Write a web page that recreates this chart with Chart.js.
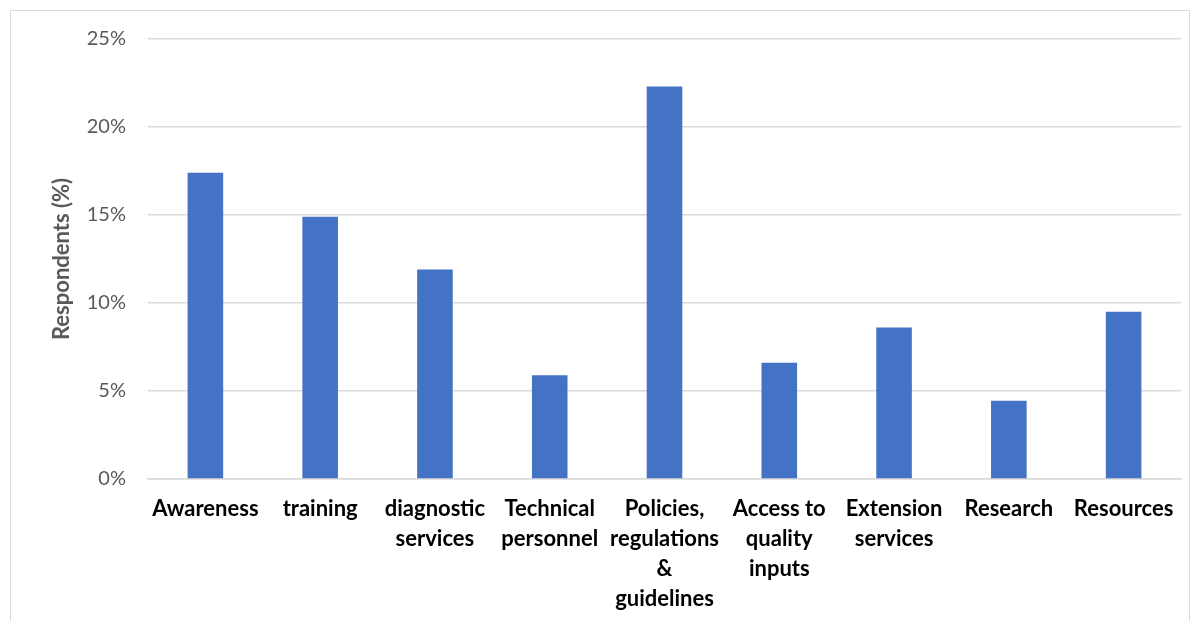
<!DOCTYPE html>
<html>
<head>
<meta charset="utf-8">
<script src="https://cdn.jsdelivr.net/npm/chart.js@4.4.1/dist/chart.umd.min.js"></script>
<style>
  body { margin: 0; background: #fff; }
  #wrap {
    position: absolute; left: 10px; top: 10px; width: 1180px; height: 620px;
    border: 1px solid #d9d9d9; border-bottom: none; box-sizing: border-box;
  }
</style>
</head>
<body>
<div id="wrap"><canvas id="chart"></canvas></div>
<script>
// categories and values
const categories = [
    'Awareness',
    'training',
    ['diagnostic', 'services'],
    ['Technical', 'personnel'],
    ['Policies,', 'regulations', '&', 'guidelines'],
    ['Access to', 'quality', 'inputs'],
    ['Extension', 'services'],
    'Research',
    'Resources'
];
const respondents = [17.4, 14.9, 11.9, 5.9, 22.3, 6.6, 8.6, 4.45, 9.5];
const yTicks = [0, 5, 10, 15, 20, 25];

const ctx = document.getElementById('chart').getContext('2d');

new Chart(ctx, {
    type: 'bar',
    data: {
        labels: categories,
        datasets: [{
            label: 'Respondents',
            data: respondents,
            backgroundColor: '#4472c4',
            barPercentage: 0.62,
            categoryPercentage: 0.5
        }]
    },
    options: {
        responsive: true,
        maintainAspectRatio: false,
        animation: false,
        plugins: {
            legend: { display: false },
            tooltip: { enabled: false }
        },
        layout: {
            padding: { left: 0, right: 8, top: 28, bottom: 1 }
        },
        scales: {
            x: {
                grid: { display: false, drawTicks: false },
                border: { color: '#d9d9d9', width: 1.5 },
                ticks: {
                    color: '#000',
                    maxRotation: 0,
                    autoSkip: false,
                    padding: 15,
                    font: { family: 'Lato', size: 22, weight: 'bold', lineHeight: 1.364 }
                }
            },
            y: {
                min: 0,
                max: 25,
                afterBuildTicks: axis => { axis.ticks = yTicks.map(v => ({ value: v })); },
                afterFit: axis => { axis.width = 137; axis.paddingTop = 0; },
                grid: { color: '#d9d9d9', lineWidth: 1.5, drawTicks: false },
                border: { display: false },
                ticks: {
                    color: '#595959',
                    padding: 22,
                    font: { family: 'Lato', size: 20 },
                    callback: v => v + '%'
                },
                title: {
                    display: true,
                    text: 'Respondents (%)',
                    color: '#595959',
                    font: { family: 'Lato', size: 22, weight: 'bold' },
                    padding: { top: 38, bottom: 0 }
                }
            }
        }
    }
});
</script>
</body>
</html>
